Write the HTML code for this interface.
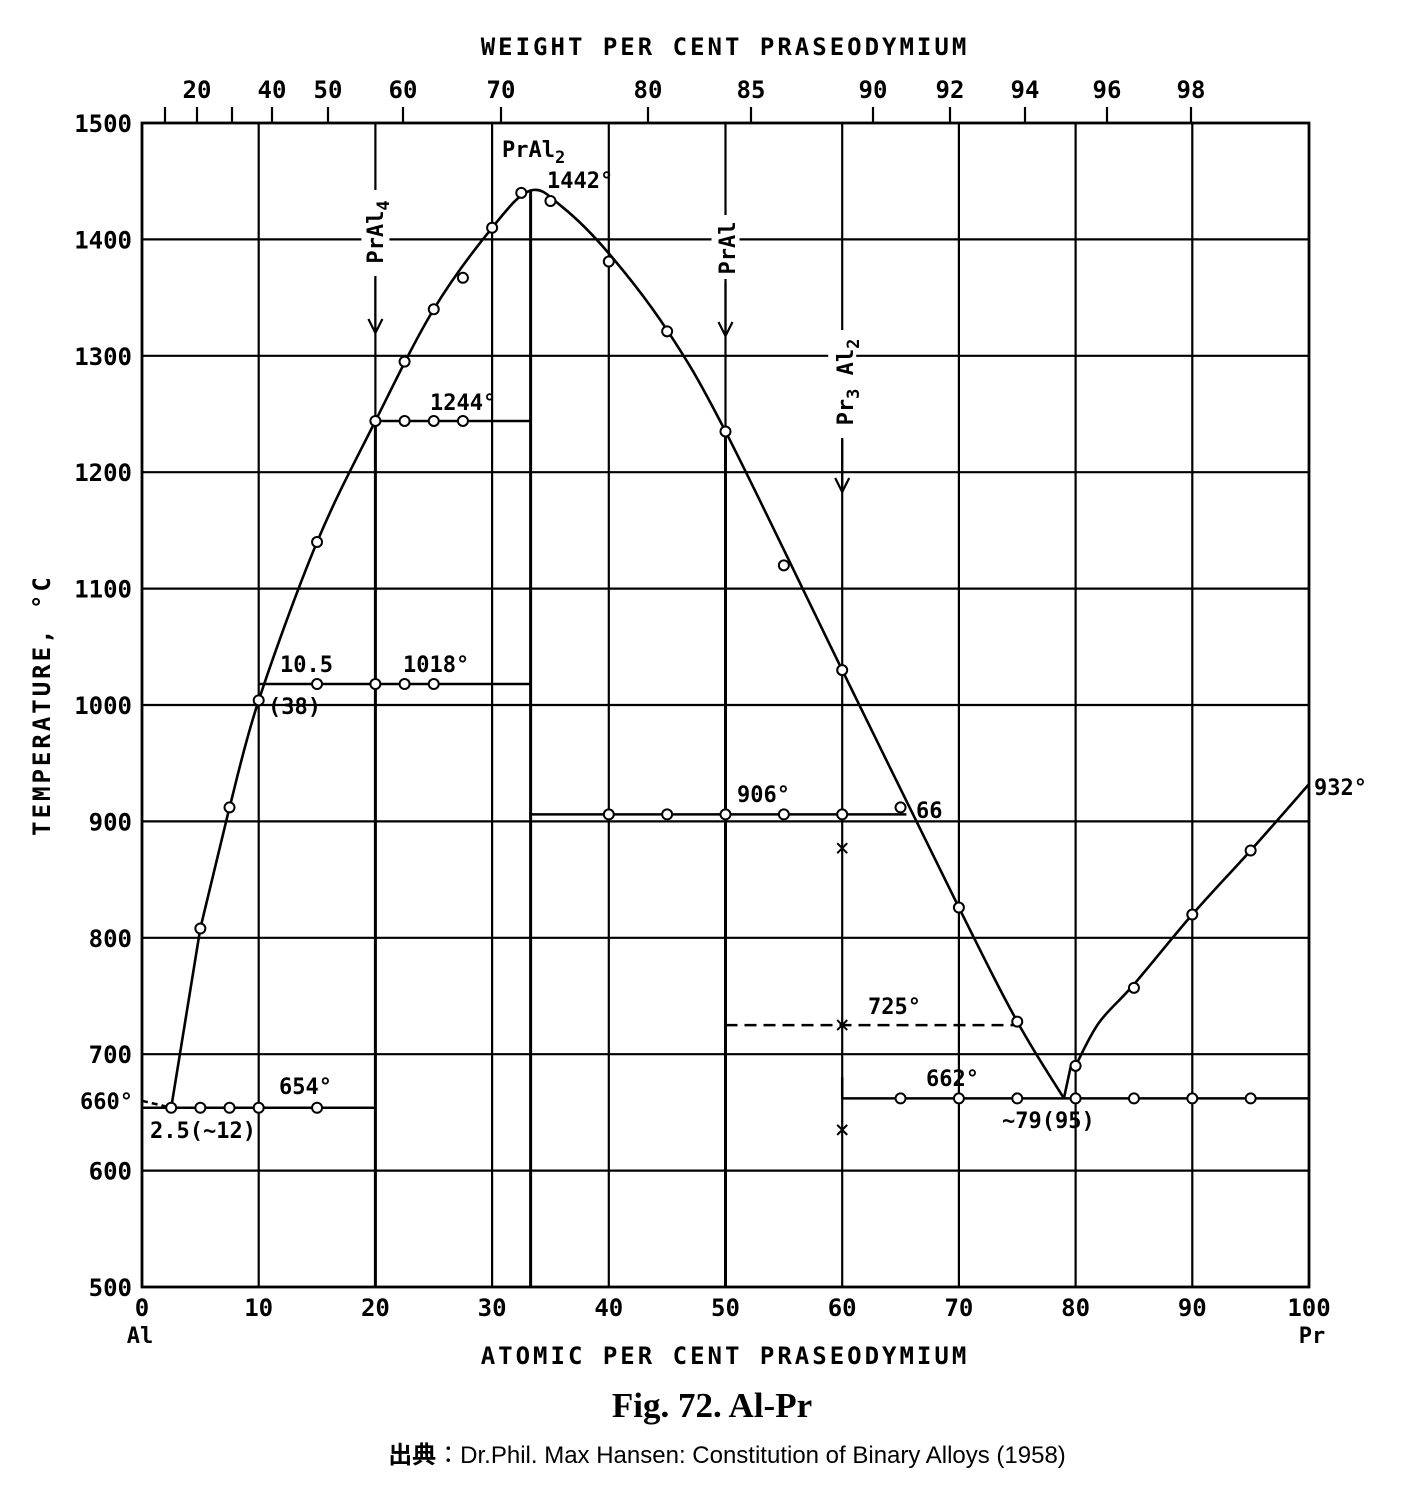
<!DOCTYPE html>
<html><head><meta charset="utf-8">
<style>
html,body{margin:0;padding:0;background:#fff;}
svg{display:block;}
text{font-family:"DejaVu Sans Mono","Liberation Mono",monospace;fill:#000;font-weight:bold;}
</style></head>
<body>
<svg id="s" width="1402" height="1494" xmlns="http://www.w3.org/2000/svg"></svg>
<script>
const s=document.getElementById('s');
const px=x=>142+11.67*x, py=T=>123+(1500-T)*1.164;
let h='';
const L=(x1,y1,x2,y2,w=2.2,d='')=>h+=`<line x1="${x1}" y1="${y1}" x2="${x2}" y2="${y2}" stroke="#000" stroke-width="${w}" ${d?`stroke-dasharray="${d}"`:''}/>`;
const T=(x,y,t,sz=22,a='start',extra='')=>h+=`<text x="${x}" y="${y}" font-size="${sz}" text-anchor="${a}" ${extra}>${t}</text>`;
h+=`<rect x="142" y="123" width="1167" height="1164" fill="none" stroke="#000" stroke-width="2.8"/>`;
for(let i=1;i<10;i++)L(px(i*10),123,px(i*10),1287,2.2);
for(let t=600;t<1500;t+=100)L(142,py(t),1309,py(t),2.2);
for(let t=500;t<=1500;t+=100)T(132,py(t)+9,t,24,'end');
T(133,py(660)+8,'660°',22,'end');
for(let i=0;i<=100;i+=10)T(px(i),1316,i,24,'middle');
T(140,1343,'Al',22,'middle');T(1312,1343,'Pr',22,'middle');
T(725,1364,'ATOMIC PER CENT PRASEODYMIUM',24,'middle','letter-spacing="3"');
T(725,55,'WEIGHT PER CENT PRASEODYMIUM',24,'middle','letter-spacing="3"');
[[197,'20'],[272,'40'],[328,'50'],[403,'60'],[501,'70'],[648,'80'],[751,'85'],[873,'90'],[950,'92'],[1025,'94'],[1107,'96'],[1191,'98']].forEach(([x,t])=>{T(x,98,t,24,'middle');});
[165,197,232,272,328,403,501,648,751,873,950,1025,1107,1191].forEach(x=>L(x,107,x,123,2.2));
T(50,705,'TEMPERATURE, °C',24,'middle','transform="rotate(-90 50 705)" letter-spacing="3"');
const P=a=>a.map(([x,t])=>`${px(x).toFixed(1)},${py(t).toFixed(1)}`).join(' ');
function smooth(pts){const p=pts.map(([x,t])=>[px(x),py(t)]);let d=`M${p[0][0]},${p[0][1]}`;
for(let i=0;i<p.length-1;i++){const p0=p[i-1]||p[i],p1=p[i],p2=p[i+1],p3=p[i+2]||p2;
d+=` C${p1[0]+(p2[0]-p0[0])/6},${p1[1]+(p2[1]-p0[1])/6} ${p2[0]-(p3[0]-p1[0])/6},${p2[1]-(p3[1]-p1[1])/6} ${p2[0]},${p2[1]}`;}
return `<path d="${d}" fill="none" stroke="#000" stroke-width="2.6"/>`;}
h+=`<polyline fill="none" stroke="#000" stroke-width="2.5" points="${P([[0,660],[2.5,654]])}" stroke-dasharray="6,4"/>`;
h+=`<polyline fill="none" stroke="#000" stroke-width="2.6" points="${P([[2.5,654],[5,808],[7.5,912]])}"/>`;
h+=smooth([[7.5,912],[10,1004],[15,1140],[20,1244],[25,1340],[30,1410],[33.3,1442],[36,1428],[40,1388],[45,1322],[50,1235],[60,1030],[70,826],[75,728],[79,662]]);
h+=`<polyline fill="none" stroke="#000" stroke-width="2.6" points="${P([[79,662],[79.6,690],[80,690]])}"/>`;
h+=smooth([[80,690],[82,727],[85,760],[90,820],[95,875],[100,932]]);
L(px(20),py(1244),px(20),1287,3);L(px(33.3),py(1442),px(33.3),1287,3);
L(px(50),py(1235),px(50),1287,3);
L(142,py(654),px(20),py(654),2.5);
L(px(10),py(1018),px(33.3),py(1018),2.5);
L(px(20),py(1244),px(33.3),py(1244),2.5);
L(px(33.3),py(906),px(65.5),py(906),2.5);
L(px(50),py(725),px(75),py(725),2.5,'12,7');
L(px(60),py(662),1309,py(662),2.5);
L(px(60),py(662),px(60),py(680),2.5);
[[2.5,654],[5,654],[7.5,654],[10,654],[15,654],[5,808],[7.5,912],[10,1004],[15,1018],[20,1018],[22.5,1018],[25,1018],[15,1140],[20,1244],[22.5,1244],[25,1244],[27.5,1244],[22.5,1295],[25,1340],[27.5,1367],[30,1410],[32.5,1440],[35,1433],[40,1381],[45,1321],[50,1235],[55,1120],[60,1030],[40,906],[45,906],[50,906],[55,906],[60,906],[65,912],[70,826],[75,728],[80,690],[80,662],[65,662],[70,662],[75,662],[85,662],[90,662],[95,662],[85,757],[90,820],[95,875]].forEach(([x,t])=>h+=`<circle cx="${px(x)}" cy="${py(t)}" r="5" fill="#fff" stroke="#000" stroke-width="2"/>`);
[[60,877],[60,725],[60,635]].forEach(([x,t])=>{const X=px(x),Y=py(t);L(X-5,Y-5,X+5,Y+5,2);L(X-5,Y+5,X+5,Y-5,2);});
const A=(x,y1,y2)=>{L(x,y1,x,y2,2.2);L(x-7,y2-14,x,y2,2.2);L(x+7,y2-14,x,y2,2.2);};
A(px(20),278,333);A(px(50),282,336);A(px(60),440,492);
h+=`<rect x="${px(20)-14}" y="190" width="28" height="86" fill="#fff"/><rect x="${px(50)-14}" y="215" width="28" height="64" fill="#fff"/><rect x="${px(60)-14}" y="330" width="28" height="108" fill="#fff"/>`;
T(383,232,'PrAl<tspan font-size="17" dy="6">4</tspan>',22,'middle','transform="rotate(-90 383 232)"');
T(735,248,'PrAl',22,'middle','transform="rotate(-90 735 248)"');
T(853,382,'Pr<tspan font-size="17" dy="6">3</tspan><tspan dy="-6"> Al</tspan><tspan font-size="17" dy="6">2</tspan>',22,'middle','transform="rotate(-90 853 382)"');
h+=`<rect x="498" y="133" width="78" height="30" fill="#fff"/>`;
T(502,157,'PrAl<tspan font-size="17" dy="6">2</tspan>',22);
T(547,188,'1442°',22);T(430,410,'1244°',22);T(403,672,'1018°',22);T(280,672,'10.5',22);
T(268,714,'(38)',22);T(737,802,'906°',22);T(916,818,'66',22);T(1314,795,'932°',22);
T(868,1014,'725°',22);T(926,1086,'662°',22);T(1002,1128,'~79(95)',22);T(279,1094,'654°',22);
T(150,1138,'2.5(~12)',22);
h+=`<text x="712" y="1417" font-size="35" text-anchor="middle" style="font-family:'Liberation Serif',serif;font-weight:bold">Fig. 72. Al-Pr</text>`;
h+=`<text x="727" y="1463" font-size="24" text-anchor="middle" style="font-family:'Liberation Sans','Noto Sans CJK JP',sans-serif;font-weight:normal"><tspan font-weight="bold">出典</tspan>：Dr.Phil. Max Hansen: Constitution of Binary Alloys (1958)</text>`;
s.innerHTML=h;
</script>
</body></html>
